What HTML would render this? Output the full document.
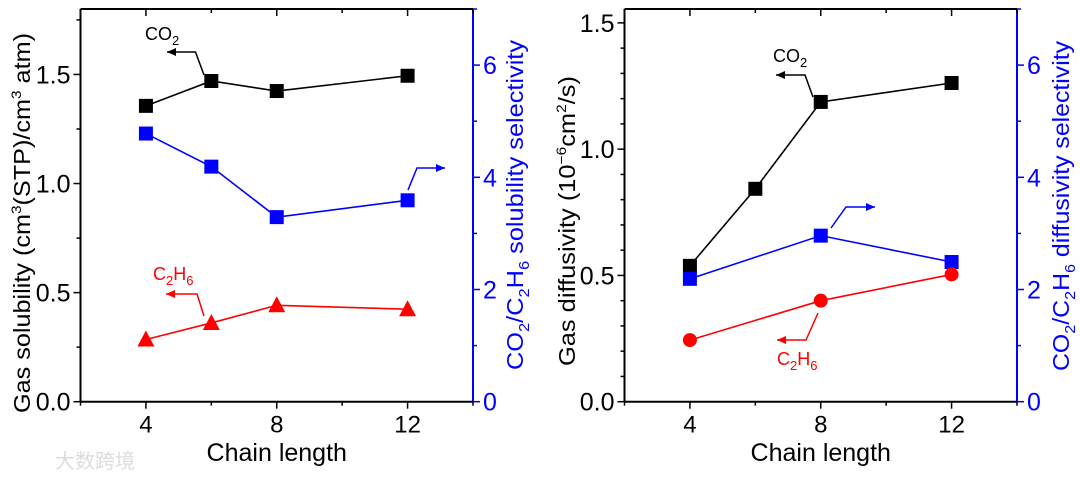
<!DOCTYPE html>
<html><head><meta charset="utf-8"><style>
html,body{margin:0;padding:0;background:#fff;}
svg{display:block;font-family:"Liberation Sans","Noto Sans CJK SC",sans-serif;}
</style></head><body>
<svg id="fig" width="1080" height="479" viewBox="0 0 1080 479" xmlns="http://www.w3.org/2000/svg">
<text x="55" y="468" font-size="20" fill="#ddd">大数跨境</text>
</svg>
<script>
// Shared x categories
const chainA = [4, 6, 8, 12];
const solCO2 = [1.356, 1.47, 1.424, 1.494];
const solC2H6 = [0.285, 0.361, 0.442, 0.424];
const solSel = [4.78, 4.19, 3.29, 3.59];
const chainB = [4, 6, 8, 12];
const difCO2 = [0.538, 0.843, 1.187, 1.262];
const chainC = [4, 8, 12];
const difC2H6 = [0.244, 0.40, 0.504];
const difSel = [2.19, 2.96, 2.49];
const xTicks = ["4", "8", "12"];
const solTicks = ["0.0", "0.5", "1.0", "1.5"];
const difTicks = ["0.0", "0.5", "1.0", "1.5"];
const selTicks = ["0", "2", "4", "6"];

const NS = "http://www.w3.org/2000/svg";
const svg = document.getElementById('fig');
function el(tag, attrs, parent) {
  const e = document.createElementNS(NS, tag);
  for (const k in attrs) e.setAttribute(k, attrs[k]);
  (parent || svg).appendChild(e);
  return e;
}
function panel(P) {
  const g = el('g', {});
  
  
  const X = v => P.x0 + (v - 2) / 12 * (P.x1 - P.x0);
  const YL = v => P.y1 - v / P.lmax * (P.y1 - P.y0);
  const YR = v => P.y1 - v / 7 * (P.y1 - P.y0);
  el('line', {x1: P.x0, y1: P.y0, x2: P.x1, y2: P.y0, stroke: '#000', 'stroke-width': 2}, g);
  el('line', {x1: P.x0, y1: P.y1, x2: P.x1, y2: P.y1, stroke: '#000', 'stroke-width': 2}, g);
  el('line', {x1: P.x0, y1: P.y0, x2: P.x0, y2: P.y1, stroke: '#000', 'stroke-width': 2}, g);
  el('line', {x1: P.x1, y1: P.y0, x2: P.x1, y2: P.y1, stroke: '#00f', 'stroke-width': 2}, g);
  for (let v = 2; v <= 14; v += 2) {
    const maj = (v % 4 === 0);
    const L = maj ? 7 : 4;
    el('line', {x1: X(v), y1: P.y1, x2: X(v), y2: P.y1 + L, stroke: '#000', 'stroke-width': 1.5}, g);
    el('line', {x1: X(v), y1: P.y0, x2: X(v), y2: P.y0 + L, stroke: '#000', 'stroke-width': 1.5}, g);
  }
  xTicks.forEach(t => {
    const tx = el('text', {x: X(+t), y: P.y1 + 31, 'font-size': 24, 'text-anchor': 'middle'}, g);
    tx.textContent = t;
    
    
  });
  for (let v = 0; v <= P.lmax + 1e-9; v += P.lminor) {
    const maj = Math.abs(v / 0.5 - Math.round(v / 0.5)) < 1e-6;
    el('line', {x1: P.x0, y1: YL(v), x2: P.x0 - (maj ? 7 : 4), y2: YL(v), stroke: '#000', 'stroke-width': 1.5}, g);
  }
  P.lt.forEach(t => {
    const tx = el('text', {x: P.x0 - 10, y: YL(+t) + 9, 'font-size': 25, 'text-anchor': 'end'}, g);
    tx.textContent = t;
    
    
  });
  for (let v = 0; v <= 7; v += 1) {
    el('line', {x1: P.x1, y1: YR(v), x2: P.x1 + (v % 2 === 0 ? 7 : 4), y2: YR(v), stroke: '#00f', 'stroke-width': 1.5}, g);
  }
  selTicks.forEach(t => {
    const tx = el('text', {x: P.x1 + 10, y: YR(+t) + 9, 'font-size': 25, fill: '#00f'}, g);
    tx.textContent = t;
    
    
  });
  const xt = el('text', {x: (P.x0 + P.x1) / 2, y: 461, 'font-size': 25, 'text-anchor': 'middle'}, g);
  xt.textContent = 'Chain length';
  
  
  const lt = el('text', {transform: `translate(${P.ltx},${P.lty}) rotate(-90)`, 'font-size': 23, 'text-anchor': 'middle', textLength: P.ltl, lengthAdjust: 'spacingAndGlyphs'}, g);
  lt.innerHTML = P.ltitle;
  
  
  const rt = el('text', {transform: `translate(${P.rtx},${P.rty}) rotate(-90)`, 'font-size': 23, 'text-anchor': 'middle', fill: '#00f', textLength: P.rtl, lengthAdjust: 'spacingAndGlyphs'}, g);
  rt.innerHTML = P.rtitle;
  
  
  P.series.forEach(s => {
    const Y = s.right ? YR : YL;
    const pts = s.xs.map((x, i) => X(x) + ',' + Y(s.ys[i])).join(' ');
    const pl = el('polyline', {points: pts, fill: 'none', stroke: s.color, 'stroke-width': 1.6}, g);
    
    
    s.xs.forEach((x, i) => {
      const cx = X(x), cy = Y(s.ys[i]);
      let m;
      if (s.marker === 'square') m = el('rect', {x: cx - 7, y: cy - 7, width: 14, height: 14, fill: s.color}, g);
      else if (s.marker === 'tri') m = el('polygon', {points: `${cx},${cy - 9} ${cx - 8.5},${cy + 7} ${cx + 8.5},${cy + 7}`, fill: s.color}, g);
      else m = el('circle', {cx: cx, cy: cy, r: 7, fill: s.color}, g);
      
      
    });
  });
  P.ann.forEach(a => {
    el('polyline', {points: a.pts.map(p => p.join(',')).join(' '), fill: 'none', stroke: a.color, 'stroke-width': 1.5}, g);
    const e = a.pts[a.pts.length - 1], d = a.pts[a.pts.length - 2];
    const dir = Math.sign(e[0] - d[0]);
    el('polygon', {points: `${e[0]},${e[1]} ${e[0] - dir * 9},${e[1] - 4} ${e[0] - dir * 9},${e[1] + 4}`, fill: a.color}, g);
    if (a.label) {
      const t = el('text', {x: a.lx, y: a.ly, 'font-size': 18, fill: a.color}, g);
      t.innerHTML = a.label;
      
      
    }
  });
}
const CO2L = 'CO<tspan font-size="13" dy="5">2</tspan>';
const C2H6L = 'C<tspan font-size="13" dy="5">2</tspan><tspan dy="-5">H</tspan><tspan font-size="13" dy="5">6</tspan>';
panel({
  name: 'solubility-panel', x0: 80.5, x1: 473, y0: 9, y1: 401.7, lmax: 1.8, lminor: 0.25, lt: solTicks,
  ltitle: 'Gas solubility (cm<tspan font-size="14" dy="-9">3</tspan><tspan dy="9">(STP)/cm</tspan><tspan font-size="14" dy="-9">3</tspan><tspan dy="9"> atm)</tspan>',
  ltx: 30, lty: 223, ltl: 380,
  rtitle: 'CO<tspan font-size="15" dy="6">2</tspan><tspan dy="-6">/C</tspan><tspan font-size="15" dy="6">2</tspan><tspan dy="-6">H</tspan><tspan font-size="15" dy="6">6</tspan><tspan dy="-6"> solubility selectivity</tspan>',
  rtx: 523, rty: 205, rtl: 330,
  series: [
    {name: 'co2-solubility', xs: chainA, ys: solCO2, color: '#000', marker: 'square'},
    {name: 'solubility-selectivity', xs: chainA, ys: solSel, color: '#00f', marker: 'square', right: true},
    {name: 'c2h6-solubility', xs: chainA, ys: solC2H6, color: '#f00', marker: 'tri'}
  ],
  ann: [
    {color: '#000', pts: [[204, 75], [195.5, 52], [167, 52]], label: CO2L, lx: 145, ly: 40},
    {color: '#00f', pts: [[408, 190], [417, 168], [445, 168]]},
    {color: '#f00', pts: [[204, 316], [197, 294], [166, 294]], label: C2H6L, lx: 153, ly: 280}
  ]
});
panel({
  name: 'diffusivity-panel', x0: 624.5, x1: 1017, y0: 9, y1: 401.7, lmax: 1.555, lminor: 0.1, lt: difTicks,
  ltitle: 'Gas diffusivity (10<tspan font-size="14" dy="-9">−6</tspan><tspan dy="9">cm</tspan><tspan font-size="14" dy="-9">2</tspan><tspan dy="9">/s)</tspan>',
  ltx: 575, lty: 221, ltl: 290,
  rtitle: 'CO<tspan font-size="15" dy="6">2</tspan><tspan dy="-6">/C</tspan><tspan font-size="15" dy="6">2</tspan><tspan dy="-6">H</tspan><tspan font-size="15" dy="6">6</tspan><tspan dy="-6"> diffusivity selectivity</tspan>',
  rtx: 1069, rty: 206, rtl: 330,
  series: [
    {name: 'co2-diffusivity', xs: chainB, ys: difCO2, color: '#000', marker: 'square'},
    {name: 'diffusivity-selectivity', xs: chainC, ys: difSel, color: '#00f', marker: 'square', right: true},
    {name: 'c2h6-diffusivity', xs: chainC, ys: difC2H6, color: '#f00', marker: 'circle'}
  ],
  ann: [
    {color: '#000', pts: [[813, 97], [805, 75], [776, 75]], label: CO2L, lx: 773, ly: 62},
    {color: '#00f', pts: [[831, 228], [846, 207], [875, 207]]},
    {color: '#f00', pts: [[818, 313], [806, 340], [777, 340]], label: C2H6L, lx: 777, ly: 365}
  ]
});
</script>
</body></html>
